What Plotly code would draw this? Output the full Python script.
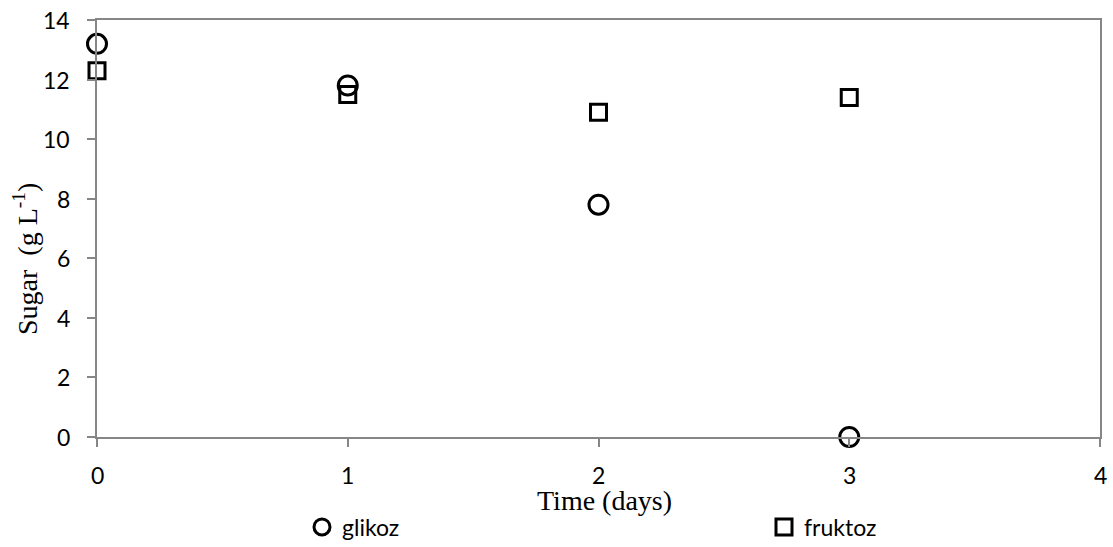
import plotly.graph_objects as go

days = [0, 1, 2, 3]
glikoz = [13.2, 11.8, 7.8, 0.0]
fruktoz = [12.3, 11.5, 10.9, 11.4]

x_ticks = [0, 1, 2, 3, 4]
y_ticks = [0, 2, 4, 6, 8, 10, 12, 14]

W, H = 1113, 547
ML, MR, MT, MB = 97, 13, 20, 110
PW, PH = W - ML - MR, H - MT - MB


def px_to_paper(px, py):
    return (px - ML) / PW, (H - MB - py) / PH


axis_color = "#868686"
sans = "Lato, Open Sans, sans-serif"
serif = "Liberation Serif, Times New Roman, serif"
tick_font = dict(family=sans, size=23, color="#000000")

fig = go.Figure()
fig.add_trace(go.Scatter(
    x=days, y=glikoz, mode="markers", name="glikoz", legend="legend",
    cliponaxis=False,
    marker=dict(symbol="circle-open", size=19, color="#000000",
                line=dict(width=3, color="#000000")),
))
fig.add_trace(go.Scatter(
    x=days, y=fruktoz, mode="markers", name="fruktoz", legend="legend2",
    cliponaxis=False,
    marker=dict(symbol="square-open", size=16, color="#000000",
                line=dict(width=3, color="#000000")),
))

legend_common = dict(
    xref="container", yref="container", xanchor="left", yanchor="middle",
    y=1 - 527 / H, bgcolor="rgba(0,0,0,0)",
    font=dict(family=sans, size=23, color="#000000"),
    itemwidth=30,
)

# tick labels placed with extra distance from the axis lines
ylab_x, _ = px_to_paper(72, 0)
_, xlab_y = px_to_paper(0, 475)
tick_labels = (
    [dict(text=str(v), xref="x", yref="paper", x=v, y=xlab_y,
          xanchor="center", yanchor="middle", showarrow=False, font=tick_font)
     for v in x_ticks]
    + [dict(text=str(v), xref="paper", yref="y", x=ylab_x, y=v,
            xanchor="right", yanchor="middle", showarrow=False, font=tick_font)
       for v in y_ticks]
)

xt_x, xt_y = px_to_paper(604, 500)
yt_x, yt_y = px_to_paper(25, 259)

fig.update_layout(
    width=W, height=H,
    margin=dict(l=ML, r=MR, t=MT, b=MB, autoexpand=False),
    paper_bgcolor="white", plot_bgcolor="white",
    showlegend=True,
    legend=dict(x=302 / W, **legend_common),
    legend2=dict(x=764 / W, **legend_common),
    xaxis=dict(
        range=[0, 4], tickvals=x_ticks, showticklabels=False,
        showgrid=False, zeroline=False,
        showline=True, linecolor=axis_color, linewidth=2, mirror=True,
        ticks="outside", ticklen=8, tickcolor=axis_color, tickwidth=2,
    ),
    yaxis=dict(
        range=[0, 14], tickvals=y_ticks, showticklabels=False,
        showgrid=False, zeroline=False,
        showline=True, linecolor=axis_color, linewidth=2, mirror=True,
        ticks="outside", ticklen=8, tickcolor=axis_color, tickwidth=2,
    ),
    annotations=tick_labels + [
        dict(text="Time (days)", xref="paper", yref="paper",
             x=xt_x, y=xt_y, xanchor="center", yanchor="middle",
             showarrow=False, font=dict(family=serif, size=28, color="#000000")),
        dict(text="Sugar  (g L<sup>-1</sup>)", xref="paper", yref="paper",
             x=yt_x, y=yt_y, xanchor="center", yanchor="middle",
             textangle=-90, showarrow=False,
             font=dict(family=serif, size=28, color="#000000")),
    ],
)

fig.write_html("out.html")
